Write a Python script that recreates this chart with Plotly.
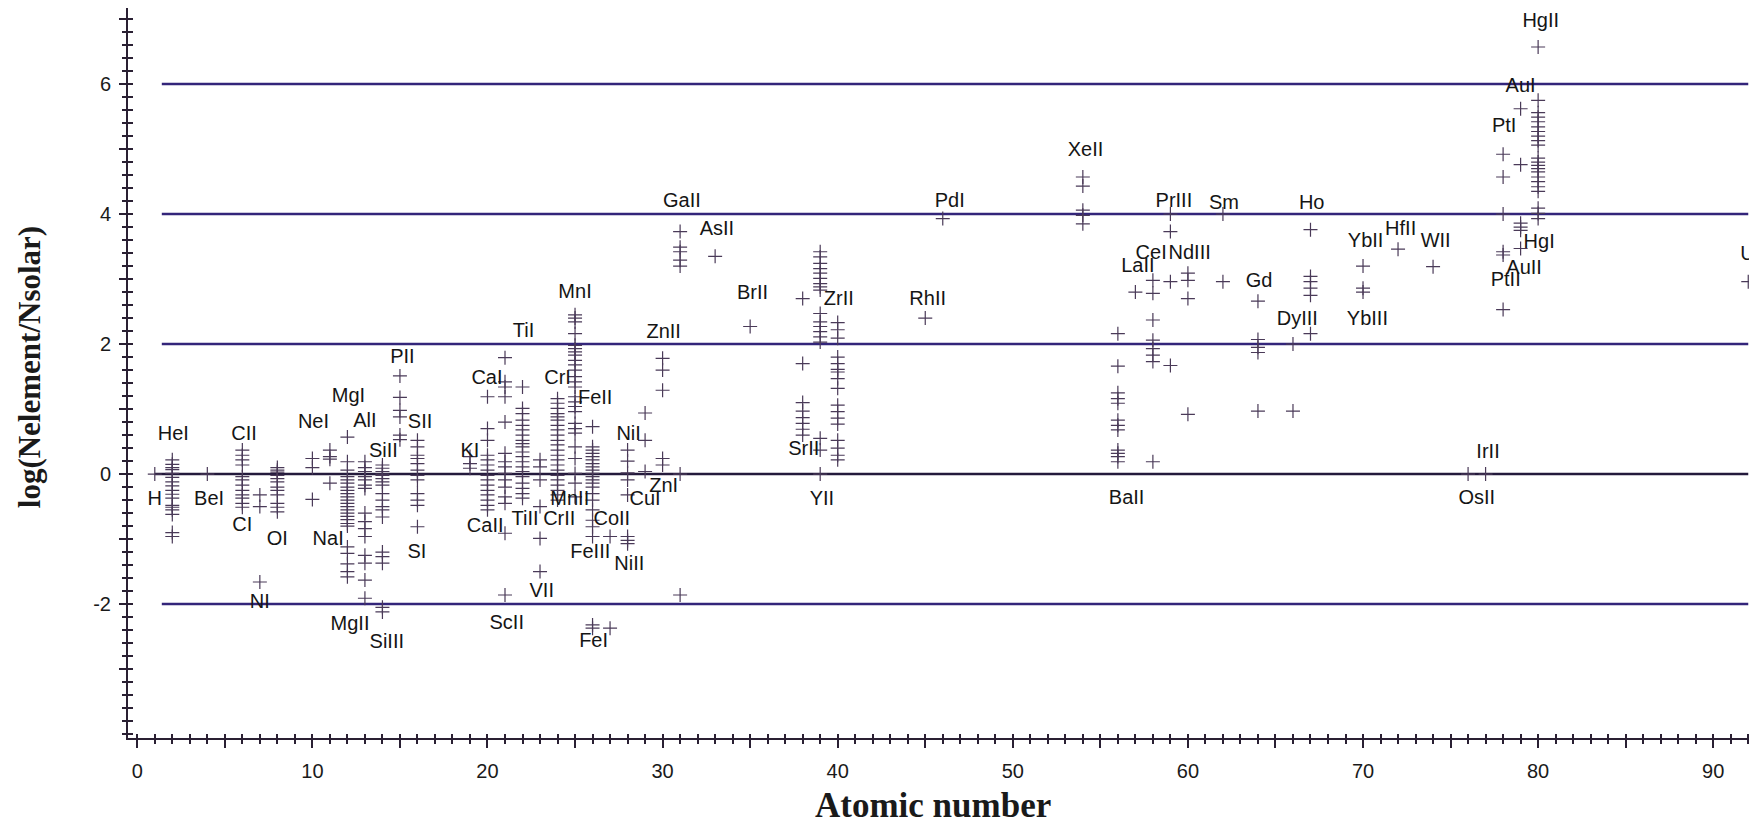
import plotly.graph_objects as go

# ---------------- data: log(N_element/N_solar) per atomic number ----------------
H  = [0.0]
He = [0.22, 0.15, 0.10, 0.07, 0.01, -0.05, -0.12, -0.18, -0.25, -0.31, -0.37, -0.48, -0.51, -0.55, -0.62, -0.90, -0.96]
Be = [0.0]
C  = [0.37, 0.29, 0.22, 0.14, -0.04, -0.09, -0.17, -0.25, -0.32, -0.37, -0.45, -0.51]
N  = [-0.32, -0.50, -1.66]
O  = [0.10, 0.06, 0.03, -0.02, -0.07, -0.12, -0.20, -0.25, -0.32, -0.45, -0.51, -0.58]
Ne = [0.24, 0.10, -0.39]
Na = [0.37, 0.27, 0.23, -0.14]
Mg = [0.57, 0.19, 0.06, -0.04, -0.09, -0.14, -0.20, -0.25, -0.30, -0.35, -0.40, -0.45, -0.50, -0.55,
      -0.60, -0.65, -0.70, -0.76, -0.80, -1.12, -1.22, -1.38, -1.50, -1.58]
Al = [0.19, 0.10, 0.04, -0.04, -0.09, -0.17, -0.22, -0.60, -0.73, -0.84, -0.96, -1.25, -1.37, -1.63, -1.91]
Si = [0.14, 0.09, 0.04, 0.0, -0.02, -0.07, -0.12, -0.17, -0.30, -0.40, -0.50, -0.55, -0.66, -1.20, -1.27,
      -1.37, -2.05, -2.12]
P  = [1.51, 1.18, 0.98, 0.88, 0.60, 0.53]
S  = [0.52, 0.42, 0.29, 0.24, 0.16, 0.06, -0.02, -0.09, -0.30, -0.40, -0.48, -0.81]
K  = [0.27, 0.16, 0.09]
Ca = [1.19, 0.70, 0.52, 0.29, 0.22, 0.14, 0.06, -0.02, -0.09, -0.17, -0.25, -0.32, -0.40, -0.48, -0.55]
Sc = [1.79, 1.42, 1.34, 1.19, 0.80, 0.32, 0.19, 0.11, 0.01, -0.09, -0.20, -0.35, -0.45, -0.91, -1.86]
Ti = [1.34, 1.01, 0.93, 0.83, 0.75, 0.68, 0.60, 0.52, 0.47, 0.42, 0.34, 0.27, 0.19, 0.11, 0.04, -0.04,
      -0.14, -0.22, -0.30, -0.37]
V  = [0.22, 0.11, -0.09, -0.50, -0.99, -1.50]
Cr = [1.16, 1.09, 1.01, 0.93, 0.88, 0.83, 0.75, 0.68, 0.60, 0.52, 0.45, 0.37, 0.29, 0.22, 0.14, 0.06,
      -0.02, -0.09, -0.17, -0.25, -0.32, -0.40]
Mn = [2.45, 2.40, 2.34, 2.16, 1.98, 1.93, 1.88, 1.83, 1.75, 1.68, 1.60, 1.50, 1.42, 1.34, 1.19, 1.11,
      1.04, 0.96, 0.78, 0.70, 0.63, 0.42, 0.24, 0.01, -0.14, -0.35]
Fe = [0.73, 0.42, 0.37, 0.32, 0.27, 0.22, 0.16, 0.11, 0.06, 0.01, -0.04, -0.09, -0.14, -0.20, -0.30,
      -0.40, -0.55, -0.71, -0.81, -0.96, -2.32, -2.37]
Co = [-0.96, -2.37]
Ni = [0.37, 0.20, 0.02, -0.09, -0.32, -0.96, -1.02, -1.07]
Cu = [0.94, 0.52, 0.04]
Zn = [1.78, 1.60, 1.29, 0.24, 0.14]
Ga = [3.73, 3.49, 3.42, 3.29, 3.20, 0.0, -1.86]
As = [3.35]
Br = [2.27]
Sr = [2.70, 1.70, 1.10, 0.97, 0.87, 0.78, 0.69, 0.60]
Y  = [3.42, 3.34, 3.24, 3.16, 3.09, 3.01, 2.93, 2.88, 2.83, 2.47, 2.34, 2.27, 2.19, 2.11, 2.03, 0.55, 0.37, 0.0]
Zr = [2.33, 2.22, 2.09, 1.80, 1.70, 1.61, 1.57, 1.47, 1.32, 1.06, 0.96, 0.86, 0.77, 0.52, 0.40, 0.29, 0.22]
Rh = [2.40]
Pd = [3.93]
Xe = [4.57, 4.43, 4.06, 3.98, 3.85]
Ba = [2.16, 1.66, 1.25, 1.16, 1.09, 0.83, 0.75, 0.68, 0.37, 0.32, 0.27, 0.19]
La = [2.80]
Ce = [2.98, 2.78, 2.37, 2.06, 1.93, 1.83, 1.73, 0.19]
Pr = [4.0, 3.73, 2.96, 1.67]
Nd = [3.09, 2.98, 2.70, 0.92]
Sm = [4.0, 2.96]
Gd = [2.66, 2.07, 1.95, 1.87, 0.97]
Dy = [2.0, 0.97]
Ho = [3.76, 3.04, 2.96, 2.86, 2.75, 2.16]
Yb = [3.20, 2.86, 2.80]
Hf = [3.46]
W  = [3.19]
Os = [0.0]
Ir = [0.0]
Pt = [4.92, 4.57, 4.0, 3.42, 3.37, 2.53]
Au = [5.62, 4.76, 3.86, 3.80, 3.75, 3.47]
Hg = [6.57, 5.75, 5.56, 5.49, 5.42, 5.34, 5.27, 5.20, 5.13, 5.06, 4.86, 4.80, 4.75, 4.70, 4.65, 4.57,
      4.50, 4.42, 4.35, 4.09, 4.01, 3.93]
U  = [2.96]

atomic_numbers = [1, 2, 4, 6, 7, 8, 10, 11, 12, 13, 14, 15, 16, 19, 20, 21, 22, 23, 24, 25, 26, 27, 28,
                  29, 30, 31, 33, 35, 38, 39, 40, 45, 46, 54, 56, 57, 58, 59, 60, 62, 64, 66, 67, 70,
                  72, 74, 76, 77, 78, 79, 80, 92]
element_values = [H, He, Be, C, N, O, Ne, Na, Mg, Al, Si, P, S, K, Ca, Sc, Ti, V, Cr, Mn, Fe, Co, Ni,
                  Cu, Zn, Ga, As, Br, Sr, Y, Zr, Rh, Pd, Xe, Ba, La, Ce, Pr, Nd, Sm, Gd, Dy, Ho, Yb,
                  Hf, W, Os, Ir, Pt, Au, Hg, U]

# ion labels and their positions (data coordinates)
label_text = ["HeI", "H", "BeI", "CII", "CI", "NI", "OI", "NeI", "NaI", "MgI", "MgII", "AlI", "SiII",
              "SiIII", "PII", "SII", "SI", "KI", "CaI", "CaII", "ScII", "TiI", "TiII", "VII", "CrI",
              "CrII", "MnI", "MnII", "FeII", "FeIII", "FeI", "CoII", "NiI", "NiII", "CuI", "ZnII",
              "ZnI", "GaII", "AsII", "BrII", "SrII", "YII", "ZrII", "RhII", "PdI", "XeII", "BaII",
              "LaII", "CeI", "NdIII", "PrIII", "Sm", "Gd", "DyIII", "Ho", "YbII", "YbIII", "HfII",
              "WII", "IrII", "OsII", "PtI", "PtII", "AuI", "AuII", "HgI", "HgII", "U"]
label_x = [2.06, 1.0, 4.1, 6.1, 6.0, 7.0, 8.0, 10.06, 10.9, 12.06, 12.15, 13.0, 14.06,
           14.25, 15.14, 16.15, 15.97, 19.0, 19.97, 19.87, 21.1, 22.06, 22.15, 23.1, 24.0,
           24.1, 25.0, 24.7, 26.15, 25.87, 26.06, 27.1, 28.06, 28.1, 29.0, 30.06,
           30.06, 31.1, 33.1, 35.14, 38.06, 39.1, 40.06, 45.14, 46.4, 54.15, 56.5,
           57.14, 57.9, 60.1, 59.2, 62.06, 64.06, 66.25, 67.07, 70.15, 70.25, 72.15,
           74.15, 77.14, 76.5, 78.06, 78.15, 79.0, 79.2, 80.06, 80.15, 91.95]
label_y = [0.60, -0.40, -0.40, 0.60, -0.80, -1.98, -1.02, 0.79, -1.02, 1.19, -2.32, 0.80, 0.34,
           -2.60, 1.78, 0.78, -1.21, 0.34, 1.47, -0.81, -2.30, 2.19, -0.70, -1.81, 1.47,
           -0.70, 2.78, -0.40, 1.16, -1.21, -2.58, -0.70, 0.60, -1.40, -0.40, 2.17,
           -0.20, 4.18, 3.76, 2.77, 0.37, -0.40, 2.68, 2.68, 4.19, 4.97, -0.38,
           3.19, 3.38, 3.38, 4.19, 4.16, 2.96, 2.37, 4.16, 3.57, 2.37, 3.75,
           3.57, 0.33, -0.38, 5.34, 2.97, 5.96, 3.16, 3.55, 6.96, 3.37]

ref_levels = [-2, 0, 2, 4, 6]
x_title = "Atomic number"
y_title = "log(Nelement/Nsolar)"

# ---------------- figure ----------------
xs, ys = [], []
for z, vals in zip(atomic_numbers, element_values):
    xs.extend([z] * len(vals))
    ys.extend(vals)

XR = [-0.53, 92.1]
YR = [-4.06, 7.17]
AX = "#2a2033"
MARK = "#4a3a58"

fig = go.Figure()

for lvl in ref_levels:
    fig.add_shape(type="line", xref="x", yref="y", x0=1.4 if lvl != 0 else 1.0, x1=92.0,
                  y0=lvl, y1=lvl,
                  line=dict(color="#241a3c" if lvl == 0 else "#33257a", width=2.5), layer="below")

fig.add_trace(go.Scatter(
    x=xs, y=ys, mode="markers",
    marker=dict(symbol="cross-thin", size=10, color=MARK, line=dict(color=MARK, width=1.2)),
    showlegend=False, hoverinfo="skip", cliponaxis=False))

fig.add_trace(go.Scatter(
    x=label_x, y=label_y, mode="text", text=label_text,
    textfont=dict(family="Liberation Sans, Arial, sans-serif", size=20, color="#151515"),
    textposition="middle center", showlegend=False, hoverinfo="skip", cliponaxis=False))

xt_vals = list(range(0, 95, 5))
xt_text = [str(v) if v % 10 == 0 else "" for v in xt_vals]
yt_vals = list(range(-3, 8))
yt_text = [str(v) if v % 2 == 0 else "" for v in yt_vals]

tickfont = dict(family="Liberation Sans, Arial, sans-serif", size=20, color="#1a1a1a")

common_x = dict(range=XR, tickmode="array", tickvals=xt_vals, ticklen=8, tickwidth=2,
                tickcolor=AX, showgrid=False, zeroline=False,
                minor=dict(tickmode="linear", tick0=0, dtick=1, ticklen=4, tickwidth=1.5,
                           tickcolor=AX, showgrid=False))
common_y = dict(range=YR, tickmode="array", tickvals=yt_vals, ticklen=7, tickwidth=2,
                tickcolor=AX, showgrid=False, zeroline=False,
                minor=dict(tickmode="linear", tick0=0, dtick=0.2, ticklen=4.5, tickwidth=1.5,
                           tickcolor=AX, showgrid=False))

title_font = dict(family="Liberation Serif, Times New Roman, serif", color="#1a1a1a", weight="bold")

# the page body adds an 8 px margin, so the figure is 8 px smaller than the window
fig.update_layout(
    width=1749, height=821,
    margin=dict(l=120, r=7, t=0, b=91),
    paper_bgcolor="white", plot_bgcolor="white",
    xaxis=dict(**common_x, ticks="outside", ticktext=xt_text, showline=True, linecolor=AX,
               linewidth=2, tickfont=tickfont, ticklabelstandoff=6,
               minor_ticks="outside"),
    xaxis2=dict(**common_x, ticks="inside", ticktext=[""] * len(xt_vals), overlaying="x",
                anchor="y", side="bottom", showline=False, showticklabels=False,
                minor_ticks="inside"),
    yaxis=dict(**common_y, ticks="outside", ticktext=yt_text, showline=True, linecolor=AX,
               linewidth=2, tickfont=tickfont, ticklabelstandoff=4,
               minor_ticks="outside"),
    yaxis2=dict(**common_y, ticks="inside", ticktext=[""] * len(yt_vals), overlaying="y",
                anchor="x", side="left", showline=False, showticklabels=False,
                minor_ticks="inside"),
    annotations=[
        dict(text=x_title, xref="paper", yref="paper", x=0.4965, y=-0.092, yanchor="middle",
             xanchor="center", showarrow=False, font=dict(**title_font, size=35)),
        dict(text=y_title, xref="paper", yref="paper", x=-0.061, y=0.508, textangle=-90,
             xanchor="center", yanchor="middle", showarrow=False, font=dict(**title_font, size=31)),
    ],
)

# invisible trace so the overlay axes are rendered
fig.add_trace(go.Scatter(x=[None], y=[None], xaxis="x2", yaxis="y2", showlegend=False,
                         hoverinfo="skip"))

fig.write_html("out.html")
